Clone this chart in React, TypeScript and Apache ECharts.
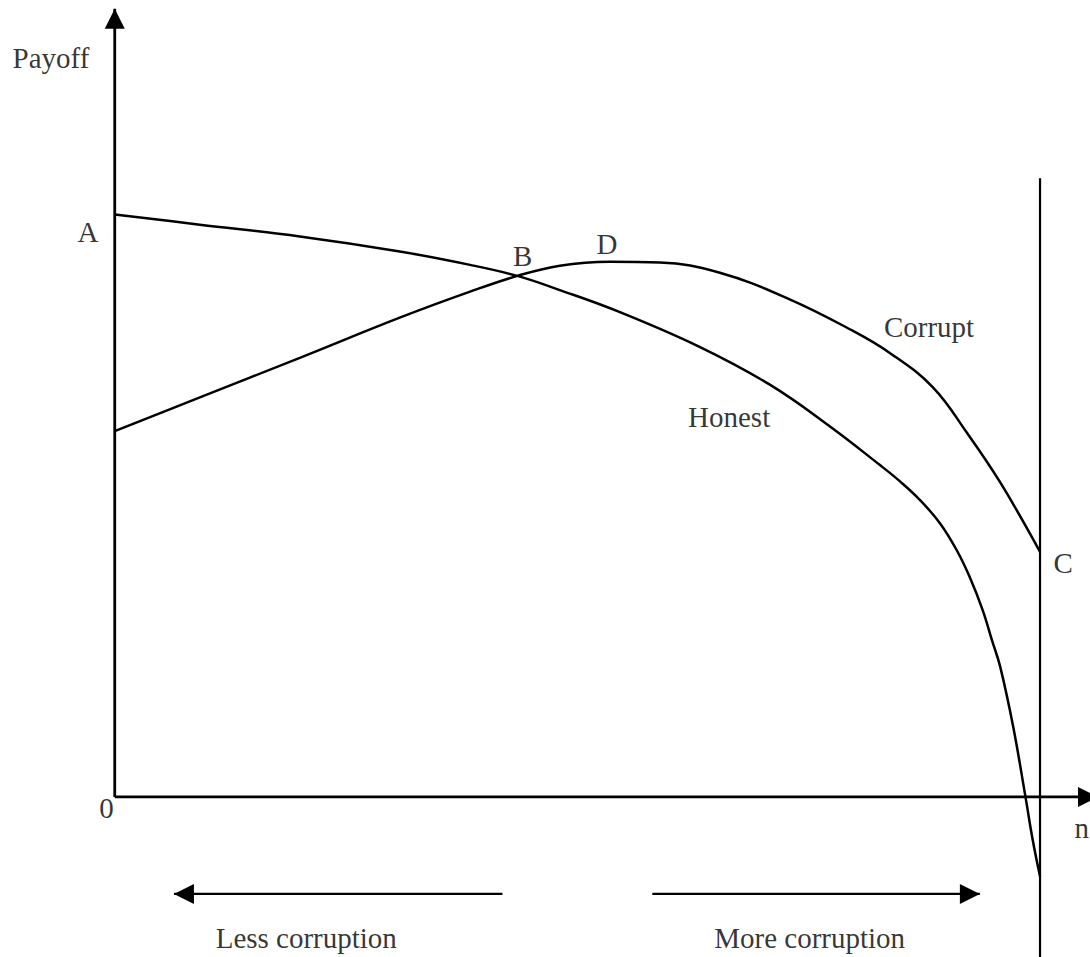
import React, { useEffect, useRef } from "react";
import * as echarts from "echarts";

// Payoff curves (x: degree of corruption n, y: payoff)
const honestCurve: number[][] = [
  [0, 73.9], [9.2, 72.6], [20.0, 71.1], [30.8, 69.2], [38.4, 67.5], [43.5, 66.1],
  [48.1, 64.3], [54.6, 61.5], [63.2, 57.1], [70.8, 52.3], [77.3, 47.0], [82.7, 42.1],
  [84.9, 40.0], [87.0, 37.7], [89.2, 34.7], [91.0, 31.3], [92.4, 27.9], [93.8, 23.7],
  [94.8, 19.9], [95.7, 16.5], [97.1, 8.9], [98.4, 0.2], [99.2, -5.4], [100, -10.1],
];
const corruptCurve: number[][] = [
  [0, 46.4], [9.2, 50.7], [20.0, 55.7], [30.8, 60.8], [38.4, 64.1], [43.5, 66.1],
  [48.1, 67.4], [53.5, 67.9], [58.9, 67.8], [65.4, 66.5], [73.0, 63.1], [79.5, 59.3],
  [83.8, 56.3], [88.4, 52.0], [92.1, 46.2], [95.7, 39.9], [100, 31.1],
];
const verticalLine: number[][] = [[100, 78.5], [100, -20.3]];
const xAxisLine: number[][] = [[0, 0], [105.4, 0]];
const yAxisLine: number[][] = [[0, 0], [0, 100]];
const lessArrow: number[][] = [[41.9, -12.3], [6.4, -12.3]];
const moreArrow: number[][] = [[58.1, -12.3], [93.5, -12.3]];

// Text annotations: [label, x, y]
const labels: [string, number, number][] = [
  ["Payoff", -6.9, 93.7],
  ["A", -2.9, 71.7],
  ["B", 44.1, 68.6],
  ["D", 53.2, 70.2],
  ["Corrupt", 88.0, 59.6],
  ["Honest", 66.4, 48.2],
  ["C", 102.5, 29.7],
  ["0", -0.9, -1.4],
  ["n", 104.5, -3.9],
  ["Less corruption", 20.7, -17.9],
  ["More corruption", 75.1, -17.9],
];

const X_MIN = -12.4;
const X_MAX = 105.4;
const Y_MIN = -20.3;
const Y_MAX = 101.1;

const RIGHT = "path://M0,0L2,1L0,2Z";
const LEFT = "path://M2,0L0,1L2,2Z";
const UP = "path://M0,2L1,0L2,2Z";

function withHead(points: number[][], sym: string, offset: number[]) {
  return points.map((p, i) =>
    i === points.length - 1
      ? { value: p, symbol: sym, symbolSize: [20, 20], symbolOffset: offset, symbolKeepAspect: false }
      : { value: p, symbol: "none" }
  );
}

function lineSeries(data: any[], width: number) {
  return {
    type: "line",
    data,
    showSymbol: true,
    symbol: "circle",
    clip: false,
    silent: true,
    lineStyle: { color: "#000", width },
    itemStyle: { color: "#000" },
    z: 2,
  };
}

export default function App() {
  const ref = useRef<HTMLDivElement>(null);
  useEffect(() => {
    if (!ref.current) return;
    const chart = echarts.init(ref.current, undefined, { renderer: "svg" });
    const font = { fontFamily: "'Liberation Serif', 'Times New Roman', serif", fontSize: 29, color: "#000" };
    chart.setOption({
      animation: false,
      backgroundColor: "#fff",
      grid: { left: 0, right: 0, top: 0, bottom: 0 },
      xAxis: { type: "value", min: X_MIN, max: X_MAX, show: false, splitLine: { show: false } },
      yAxis: { type: "value", min: Y_MIN, max: Y_MAX, show: false, splitLine: { show: false } },
      series: [
        lineSeries(withHead(xAxisLine, RIGHT, [-2, 0]), 2.8),
        lineSeries(withHead(yAxisLine, UP, [0, 10]), 2.8),
        lineSeries(verticalLine.map((p) => ({ value: p, symbol: "none" })), 2.2),
        { ...lineSeries(honestCurve.map((p) => ({ value: p, symbol: "none" })), 2.5), smooth: 0.4 },
        { ...lineSeries(corruptCurve.map((p) => ({ value: p, symbol: "none" })), 2.5), smooth: 0.4 },
        lineSeries(withHead(lessArrow, LEFT, [10, 0]), 2.2),
        lineSeries(withHead(moreArrow, RIGHT, [-10, 0]), 2.2),
        {
          type: "scatter",
          symbolSize: 0,
          silent: true,
          clip: false,
          data: labels.map(([name, x, y]) => ({ name, value: [x, y] })),
          label: {
            show: true,
            position: "inside",
            formatter: "{b}",
            align: "center",
            verticalAlign: "middle",
            ...font,
          },
          z: 3,
        },
      ],
    });
    return () => chart.dispose();
  }, []);
  return (
    <div
      ref={ref}
      style={{ position: "absolute", left: 0, top: 0, width: 1090, height: 957, background: "#fff" }}
    />
  );
}
